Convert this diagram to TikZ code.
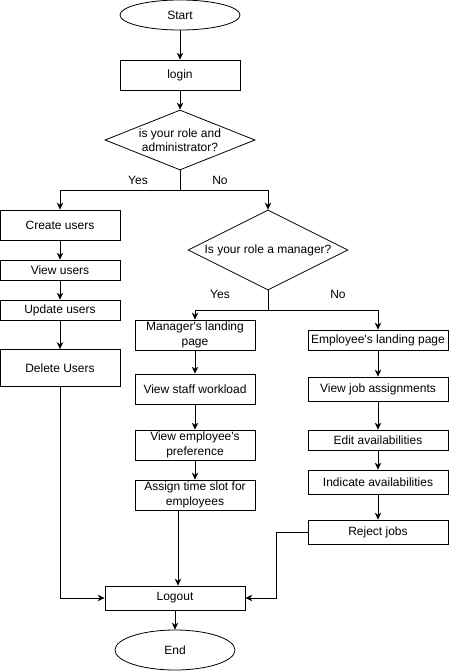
\documentclass[tikz,border=0pt]{standalone}
\usepackage{fontspec}
\setmainfont{Liberation Sans}
\usetikzlibrary{shapes.geometric,arrows.meta}
\tikzset{
  box/.style={draw, rectangle, align=center, inner sep=0pt, minimum width=120pt, minimum height=30pt},
  term/.style={draw, ellipse, minimum width=120pt, minimum height=30pt},
  ask/.style={draw, diamond, align=center, inner sep=0pt},
}
\begin{document}
\begin{tikzpicture}[x=1pt, y=-1pt, ->, >={Stealth[length=7pt,width=6.5pt]}, line width=0.8pt,
    font=\fontsize{12}{14.5}\selectfont]
         \useasboundingbox (0,0) rectangle (450,672);
         %nodes
         \node[term] at (180,15) (start) {Start};
         \node[box] at (180,75) (login) {login};
         \node[ask, shape aspect=2.5, minimum width=150pt, minimum height=60pt] at (180,140) (admin) {is your role and\\administrator?};
         \node[box] at (60,225) (create) {Create users};
         \node[box, minimum height=20pt] at (60,270) (viewu) {View users};
         \node[box, minimum height=20pt] at (60,310) (update) {Update users};
         \node[box, minimum height=37pt] at (60,368) (delete) {Delete Users};
         \node[ask, shape aspect=2, minimum width=160pt, minimum height=80pt] at (268,250) (mgrq) {Is your role a manager?};
         \node[box] at (195,335) (mland) {Manager\textquotesingle s landing\\page};
         \node[box] at (195,389) (workload) {View staff workload};
         \node[box] at (195,445) (pref) {View employee\textquotesingle s\\preference};
         \node[box] at (195,495) (assign) {Assign time slot for\\employees};
         \node[box, minimum width=140pt, minimum height=20pt] at (378,340) (eland) {Employee\textquotesingle s landing page};
         \node[box, minimum width=140pt, minimum height=24pt] at (378,389) (jobs) {View job assignments};
         \node[box, minimum width=140pt, minimum height=20pt] at (378,440) (edit) {Edit availabilities};
         \node[box, minimum width=140pt, minimum height=24pt] at (378,482) (indicate) {Indicate availabilities};
         \node[box, minimum width=140pt, minimum height=24pt] at (378,532) (reject) {Reject jobs};
         \node[box, minimum width=140pt, minimum height=24pt] at (175,598) (logout) {Logout};
         \node[term, minimum height=40pt] at (175,650) (end) {End};
         %labels
         \node at (138,180) (yes1) {Yes};
         \node at (220,180) (no1) {No};
         \node at (220,294) (yes2) {Yes};
         \node at (338,294) (no2) {No};
         %edges
         \path
             (start) edge (login)
             (login) edge (admin)
             (create) edge (viewu)
             (viewu) edge (update)
             (update) edge (delete)
             (mland) edge (workload)
             (workload) edge (pref)
             (pref) edge (assign)
             (eland) edge (jobs)
             (jobs) edge (edit)
             (edit) edge (indicate)
             (indicate) edge (reject)
             (logout) edge (end);
         \draw (admin.south) -- ++(0,20) -| (create);
         \draw (admin.south) -- ++(0,20) -| (mgrq);
         \draw (mgrq.south) -- ++(0,20) -| (mland);
         \draw (mgrq.south) -- ++(0,20) -| (eland);
         \draw ([xshift=3pt]logout.north |- assign.south) -- ([xshift=3pt]logout.north);
         \draw (delete.south) |- (logout.west);
         \draw (reject.west) -- ++(-31,0) |- (logout.east);
    \end{tikzpicture}
\end{document}
